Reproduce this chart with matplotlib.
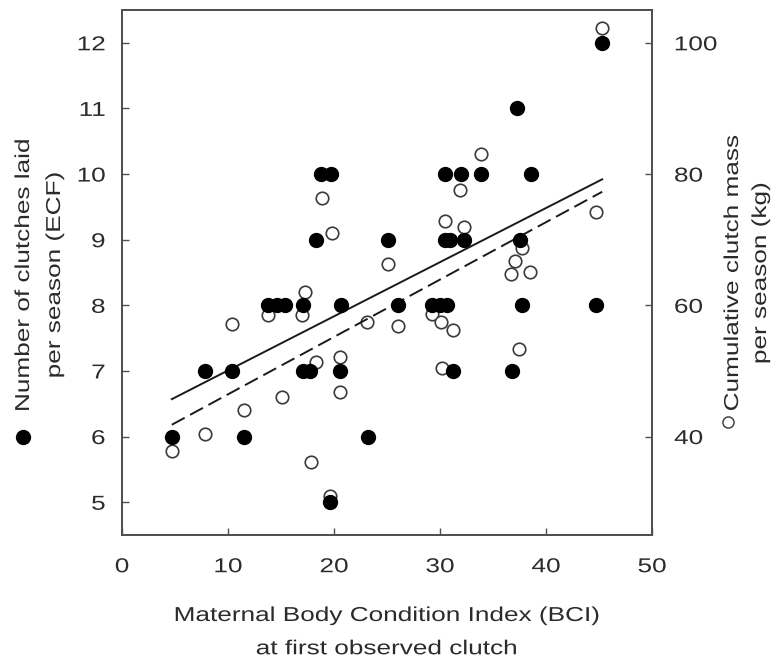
import matplotlib
matplotlib.use('Agg')
import matplotlib.pyplot as plt
from matplotlib.lines import Line2D
from matplotlib.patheffects import AbstractPathEffect
from matplotlib.transforms import Affine2D

plt.rcParams['font.family'] = ['Liberation Sans', 'DejaVu Sans']

# body condition at first clutch vs. number of clutches laid (ECF)
ecf_bci = [45.3, 37.3,
           18.8, 19.7, 30.5, 32.0, 33.9, 38.6,
           18.3, 25.1, 30.5, 30.9, 32.3, 37.5,
           13.8, 14.6, 15.4, 17.1, 20.7, 26.0, 29.2, 30.0, 30.7, 37.7, 44.7,
           7.8, 10.4, 17.1, 17.7, 20.6, 31.2, 36.8,
           4.7, 11.5, 23.2,
           19.6]
ecf_count = [12, 11,
             10, 10, 10, 10, 10, 10,
             9, 9, 9, 9, 9, 9,
             8, 8, 8, 8, 8, 8, 8, 8, 8, 8, 8,
             7, 7, 7, 7, 7, 7, 7,
             6, 6, 6,
             5]

# body condition vs. cumulative clutch mass per season (kg)
mass_bci = [45.3, 18.9, 19.8, 17.3, 13.8, 17.0, 10.4, 23.1, 33.9, 31.9, 44.7,
            30.5, 32.3, 37.7, 37.1, 36.7, 38.5, 25.1, 29.2, 26.0, 30.1, 31.2,
            37.5, 30.2, 18.3, 20.6, 20.6, 15.1, 11.5, 4.7, 7.8, 17.8, 19.6]
mass_kg = [102.3, 76.3, 71.0, 62.1, 58.5, 58.6, 57.2, 57.4, 83.1, 77.6, 74.2,
           72.9, 71.9, 68.8, 66.8, 64.7, 65.1, 66.3, 58.7, 56.8, 57.4, 56.2,
           53.4, 50.5, 51.3, 52.2, 46.8, 46.0, 44.1, 37.8, 40.4, 36.2, 31.0]

# regression lines, end points
fit_bci = [4.7, 45.3]
fit_ecf = [6.57, 9.92]
fit_kg = [41.8, 77.3]

x_ticks = [0, 10, 20, 30, 40, 50]
ecf_ticks = [5, 6, 7, 8, 9, 10, 11, 12]
kg_ticks = [40, 60, 80, 100]

FS = 14.5
TXT = '#2b2b2b'
FRAME = '#505050'


class Widen(AbstractPathEffect):
    """Draw text wider along its own baseline, about an anchor."""

    def __init__(self, sx=1.3, anchor='center'):
        super().__init__()
        self.sx = sx
        self.anchor = anchor

    def draw_path(self, renderer, gc, tpath, affine, rgbFace=None):
        ext = tpath.get_extents()
        if self.anchor == 'left':
            cx = ext.x0
        elif self.anchor == 'right':
            cx = ext.x1
        else:
            cx = (ext.x0 + ext.x1) / 2
        stretch = Affine2D().translate(-cx, 0).scale(self.sx, 1).translate(cx, 0)
        renderer.draw_path(gc, tpath, stretch + affine, rgbFace)


fig = plt.figure(figsize=(7.79, 6.64), dpi=100)
ax = fig.add_axes([122 / 779, 129 / 664, 530 / 779, 525 / 664])
ax2 = ax.twinx()
ax.set_zorder(ax2.get_zorder() + 1)
ax.patch.set_visible(False)

# open circles + dashed fit on the kg axis, filled dots + solid fit on top
ax2.plot(mass_bci, mass_kg, 'o', ls='none', ms=9, mfc='white', mec='#3a3a3a', mew=1.2)
ax2.plot(fit_bci, fit_kg, color='#1a1a1a', lw=1.4, dashes=(7.5, 3.2))
ax.plot(fit_bci, fit_ecf, color='#1a1a1a', lw=1.4)
ax.plot(ecf_bci, ecf_count, 'o', ls='none', ms=10, color='black')

ax.set_xlim(0, 50)
ax.set_ylim(4.5, 12.5)
ax2.set_ylim(25, 105)
ax.set_xticks(x_ticks)
ax.set_yticks(ecf_ticks)
ax2.set_yticks(kg_ticks)

for a in (ax, ax2):
    for s in a.spines.values():
        s.set_color(FRAME)
        s.set_linewidth(1.4)

ax.tick_params(direction='in', length=5, width=1, color=FRAME,
               labelsize=FS, labelcolor=TXT)
ax.tick_params(axis='x', pad=16)
ax.tick_params(axis='y', pad=12)
ax2.tick_params(axis='y', direction='in', length=5, width=1, color=FRAME,
                labelsize=FS, labelcolor=TXT, pad=16)

for lbl in ax.get_xticklabels():
    lbl.set_path_effects([Widen(1.3)])
for lbl in ax.get_yticklabels():
    lbl.set_path_effects([Widen(1.3, 'right')])
for lbl in ax2.get_yticklabels():
    lbl.set_path_effects([Widen(1.3, 'left')])

fig.text(387 / 779, 1 - 606 / 664,
         'Maternal Body Condition Index (BCI)\nat first observed clutch',
         ha='center', va='top', fontsize=FS, color=TXT, linespacing=1.95,
         path_effects=[Widen(1.3)])
fig.text(39 / 779, 1 - 275 / 664, 'Number of clutches laid\nper season (ECF)',
         rotation=90, rotation_mode='anchor', ha='center', va='center',
         fontsize=FS, color=TXT, linespacing=1.8, path_effects=[Widen(1.3)])
fig.text(746.5 / 779, 1 - 273 / 664, 'Cumulative clutch mass\nper season (kg)',
         rotation=90, rotation_mode='anchor', ha='center', va='center',
         fontsize=FS, color=TXT, linespacing=1.6, path_effects=[Widen(1.3)])

# series keys next to the axis titles
fig.add_artist(Line2D([23 / 779], [1 - 437 / 664], marker='o', ls='none',
                      ms=10, color='black'))
fig.add_artist(Line2D([728 / 779], [1 - 422 / 664], marker='o', ls='none',
                      ms=8, mfc='white', mec='#444444', mew=1.1))

fig.savefig('out.png', dpi=100)
